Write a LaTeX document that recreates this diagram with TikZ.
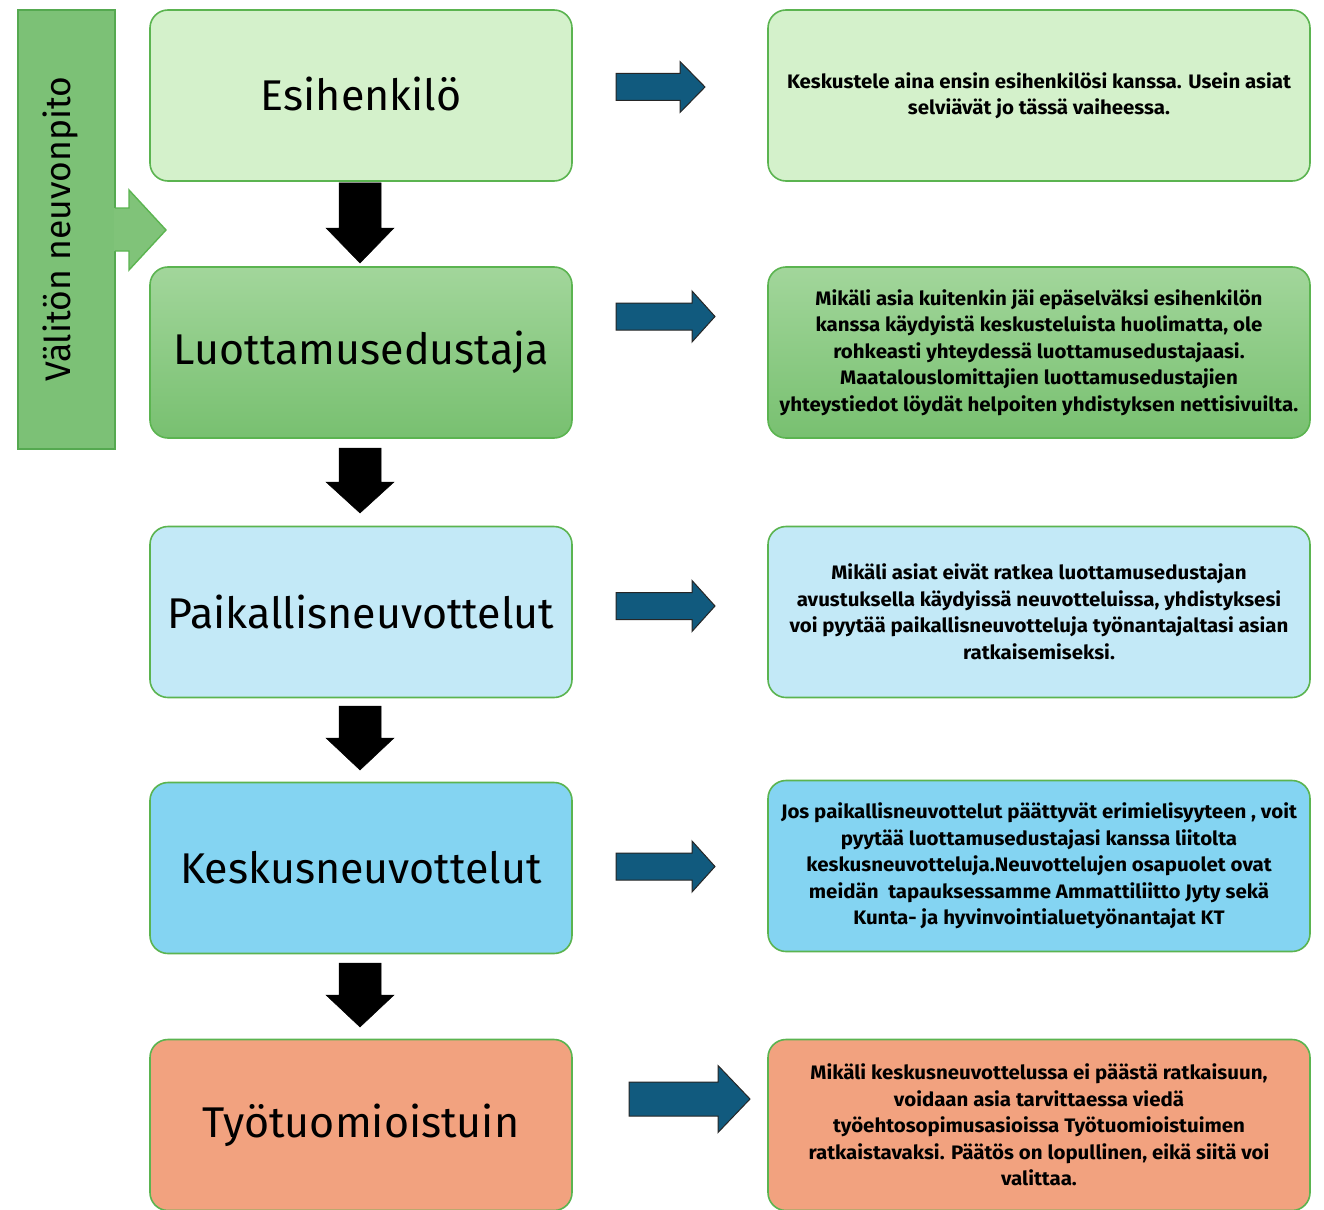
\documentclass[tikz,border=0pt]{standalone}
\usepackage{fontspec}
\setmainfont{Fira Sans}
\newfontfamily\infofont[FakeStretch=1.05]{Fira Sans}
\usetikzlibrary{calc}
\definecolor{bordergreen}{HTML}{5BB450}
\definecolor{fillA}{HTML}{D4F1CB}
\definecolor{fillBtop}{HTML}{A2D69B}
\definecolor{fillBbot}{HTML}{78C070}
\definecolor{fillC}{HTML}{C3E9F7}
\definecolor{fillD}{HTML}{84D4F2}
\definecolor{fillE}{HTML}{F2A27F}
\definecolor{barfill}{HTML}{7CC176}
\definecolor{barborder}{HTML}{55A950}
\definecolor{bararrow}{HTML}{80C379}
\definecolor{bluearrow}{HTML}{115A7E}
\newcommand{\myDownArrow}[4]{%
  \filldraw[downarr] (#1-21,#2) -- (#1+21,#2) -- (#1+21,#3) -- (#1+34,#3) -- (#1,#4) -- (#1-34,#3) -- (#1-21,#3) -- cycle;}
% x0, xhead, xtip, cy, shaft half, head half
\newcommand{\myRightArrow}[6]{%
  \filldraw[rightarr] (#1,#4-#5) -- (#2,#4-#5) -- (#2,#4-#6) -- (#3,#4) -- (#2,#4+#6) -- (#2,#4+#5) -- (#1,#4+#5) -- cycle;}
\begin{document}
\begin{tikzpicture}[x=1pt,y=-1pt,
  mainbox/.style={draw=bordergreen, line width=1.6pt, rounded corners=18pt,
    minimum width=422pt, minimum height=171pt, inner sep=0pt,
    font=\fontsize{43}{50}\selectfont, align=center},
  infobox/.style={draw=bordergreen, line width=1.6pt, rounded corners=18pt,
    minimum width=542pt, minimum height=171pt, inner sep=0pt,
    font=\infofont\bfseries\fontsize{19.5}{26.5}\selectfont, align=center},
  downarr/.style={fill=black, draw=black, line width=0.5pt},
  rightarr/.style={fill=bluearrow, draw=black!85, line width=1pt},
]
\useasboundingbox (0,0) rectangle (1324,1209);
\fill[white] (0,0) rectangle (1324,1209);

% left bar
\node[draw=barborder, line width=1.4pt, fill=barfill, minimum width=97pt,
      minimum height=439pt, inner sep=0pt] (bar) at (66.5,229.5) {};
\node[rotate=90, font=\fontsize{35.5}{40}\selectfont, inner sep=0pt] (barlabel) at (60,229) {Välitön neuvonpito};
\fill[bararrow] (114,208) -- (129,208) -- (129,190) -- (166,230) -- (129,270) -- (129,251) -- (114,251) -- cycle;
\draw[bordergreen, line width=1.4pt] (115,208) -- (129,208) -- (129,190) -- (166,230) -- (129,270) -- (129,251) -- (115,251);

% left column
\node[mainbox, fill=fillA, text depth=3pt] (esi) at (361,95.5) {Esihenkilö};
\node[mainbox, top color=fillBtop, bottom color=fillBbot] (luo) at (361,352.5) {Luottamusedustaja};
\node[mainbox, fill=fillC] (pai) at (361,612) {Paikallisneuvottelut};
\node[mainbox, fill=fillD] (kes) at (361,868) {Keskusneuvottelut};
\node[mainbox, fill=fillE] (tyo) at (361,1125) {Työtuomioistuin};

% right column
\node[infobox, fill=fillA] (iesi) at (1039,95.5) {Keskustele aina ensin esihenkilösi kanssa. Usein asiat\\selviävät jo tässä vaiheessa.};
\node[infobox, top color=fillBtop, bottom color=fillBbot] (iluo) at (1039,352.5) {Mikäli asia kuitenkin jäi epäselväksi esihenkilön\\kanssa käydyistä keskusteluista huolimatta, ole\\rohkeasti yhteydessä luottamusedustajaasi.\\Maatalouslomittajien luottamusedustajien\\yhteystiedot löydät helpoiten yhdistyksen nettisivuilta.};
\node[infobox, fill=fillC] (ipai) at (1039,612) {Mikäli asiat eivät ratkea luottamusedustajan\\avustuksella käydyissä neuvotteluissa, yhdistyksesi\\voi pyytää paikallisneuvotteluja työnantajaltasi asian\\ratkaisemiseksi.};
\node[infobox, fill=fillD] (ikes) at (1039,866) {Jos paikallisneuvottelut päättyvät erimielisyyteen , voit\\pyytää luottamusedustajasi kanssa liitolta\\keskusneuvotteluja.Neuvottelujen osapuolet ovat\\meidän\ \ tapauksessamme Ammattiliitto Jyty sekä\\Kunta- ja hyvinvointialuetyönantajat KT};
\node[infobox, fill=fillE] (ityo) at (1039,1125) {Mikäli keskusneuvottelussa ei päästä ratkaisuun,\\voidaan asia tarvittaessa viedä\\työehtosopimusasioissa Työtuomioistuimen\\ratkaistavaksi. Päätös on lopullinen, eikä siitä voi\\valittaa.};

% down arrows
\myDownArrow{360}{183}{228}{263}
\myDownArrow{360}{448}{482}{513}
\myDownArrow{360}{706}{738}{770}
\myDownArrow{360}{963}{995}{1027}

% right arrows
\myRightArrow{616}{680}{705}{87}{13.5}{25.5}
\myRightArrow{616}{692}{715}{316.5}{13.5}{25.5}
\myRightArrow{616}{692}{715}{606}{13.5}{25.5}
\myRightArrow{616}{692}{715}{866.5}{13.5}{25.5}
\myRightArrow{629}{718}{750}{1099}{17}{33.5}
\end{tikzpicture}
\end{document}
